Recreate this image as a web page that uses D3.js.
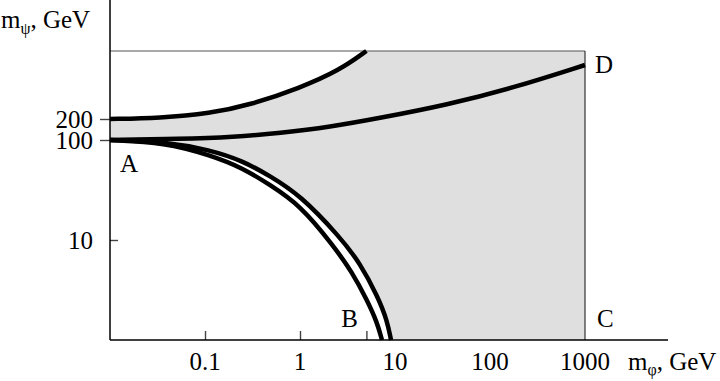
<!DOCTYPE html>
<html><head><meta charset="utf-8">
<script src="https://cdn.jsdelivr.net/npm/d3@7"></script>
<style>
html,body{margin:0;padding:0;background:#fff;}
svg{display:block;}
text{font-family:"Liberation Serif","Times New Roman",serif;fill:#000;}
</style></head>
<body>
<svg id="c" width="720" height="381"></svg>
<script>
// ---- data (log-log, GeV) ----
const xTickValues = [0.1, 1, 5];
const xLabels = [0.1, 1, 10, 100, 1000];
const yTicksOuter = [100, 200];
const yTicksInner = [10];
const yLabels = [200, 100, 10];
const boxMax = [1000, 1000]; // m_phi max, m_psi max of region
const upperCurve = [[0.01,200],[0.0336,204.8],[0.113,228],[0.298,279],[1,417],[2.64,638],[5.0,1000]];
const middleCurve = [[0.01,100],[0.0546,103.4],[0.2,110.4],[0.615,126],[2.07,153.5],[6.95,204.8],[35.3,279],[175,417],[1000,718]];
const outerCurve = [[0.01,100],[0.0379,96.6],[0.113,79.4],[0.251,61.7],[0.483,43.7],[1,28.2],[2.64,10.7],[4.28,5.89],[6.62,2.69],[8.24,1.58],[9.08,1]];
const innerCurve = [[0.01,100],[0.0379,94.4],[0.113,70.8],[0.251,52.5],[0.483,35.5],[1,22.4],[2.22,8.91],[3.53,4.79],[5.07,2.51],[6.47,1.51],[7.29,1]];
const pointLabels = [["A",0.01,100],["B",4.2,1],["C",1000,1],["D",1000,718]];

// ---- scales ----
const svg = d3.select("#c");
const x = d3.scaleLog().domain([0.01, 1000]).range([110, 585]);
const xEnd = 668;
const y = d3.scaleLog().domain([1, 10, 100, 200, 1000, 3350]).range([340, 240, 140, 119, 51, 0]);

const gen = d3.line().x(d => x(d[0])).y(d => y(d[1])).curve(d3.curveBasis);

// ---- gray region ----
const outerRev = outerCurve.slice().reverse();
const fillPath = gen(upperCurve)
  + "L" + x(boxMax[0]) + "," + y(boxMax[1])
  + "L" + x(boxMax[0]) + "," + y(1)
  + gen(outerRev).replace(/^M/, "L") + "Z";
svg.append("path").attr("d", fillPath).attr("fill", "#dfdfdf").attr("stroke", "none");

// box lines
svg.append("line").attr("x1", x(0.01)).attr("x2", x(boxMax[0])).attr("y1", y(boxMax[1])).attr("y2", y(boxMax[1]))
  .attr("stroke", "#555").attr("stroke-width", 1.2);
svg.append("line").attr("x1", x(boxMax[0])).attr("x2", x(boxMax[0])).attr("y1", y(boxMax[1])).attr("y2", y(1))
  .attr("stroke", "#333").attr("stroke-width", 1.2);

// ---- curves ----
[upperCurve, middleCurve, outerCurve, innerCurve].forEach(c => {
  svg.append("path").attr("d", gen(c)).attr("fill", "none").attr("stroke", "#000").attr("stroke-width", 4.5);
});

// ---- axes ----
const gx = svg.append("g").attr("transform", `translate(0,${y(1)})`)
  .call(d3.axisBottom(x).tickValues(xTickValues).tickSizeInner(-9).tickSizeOuter(0).tickFormat(""));
gx.select(".domain").remove();
svg.append("line").attr("x1", x(0.01)).attr("x2", xEnd).attr("y1", y(1)).attr("y2", y(1)).attr("stroke", "#000").attr("stroke-width", 1.5);

const gy1 = svg.append("g").attr("transform", `translate(${x(0.01)},0)`)
  .call(d3.axisLeft(y).tickValues(yTicksOuter).tickSizeInner(10).tickSizeOuter(0).tickFormat(""));
gy1.select(".domain").remove();
const gy2 = svg.append("g").attr("transform", `translate(${x(0.01)},0)`)
  .call(d3.axisLeft(y).tickValues(yTicksInner).tickSizeInner(-8).tickSizeOuter(0).tickFormat(""));
gy2.select(".domain").remove();
svg.selectAll("g .tick line").attr("stroke", "#444").attr("stroke-width", 1.4);
svg.append("line").attr("x1", x(0.01)).attr("x2", x(0.01)).attr("y1", 0).attr("y2", y(1)).attr("stroke", "#000").attr("stroke-width", 1.5);

// tick labels
svg.selectAll(".xl").data(xLabels).enter().append("text")
  .attr("x", d => x(d)).attr("y", 370).attr("text-anchor", "middle").attr("font-size", 25)
  .text(d => d);
svg.selectAll(".yl").data(yLabels).enter().append("text")
  .attr("x", 93).attr("y", d => y(d) + 8.5).attr("text-anchor", "end").attr("font-size", 25)
  .text(d => d);

// axis titles
const tx = svg.append("text").attr("x", 628).attr("y", 370).attr("font-size", 25);
tx.append("tspan").text("m");
tx.append("tspan").attr("font-size", 16).attr("dy", 5).text("φ");
tx.append("tspan").attr("dy", -5).text(", GeV");
const ty = svg.append("text").attr("x", 1).attr("y", 28).attr("font-size", 25);
ty.append("tspan").text("m");
ty.append("tspan").attr("font-size", 16).attr("dy", 6).text("ψ");
ty.append("tspan").attr("dy", -6).text(", GeV");

// point labels
const offs = {A:[10,32], B:[-18,-13], C:[12,-13], D:[10,8]};
pointLabels.forEach(p => {
  svg.append("text").attr("x", x(p[1]) + offs[p[0]][0]).attr("y", y(p[2]) + offs[p[0]][1])
    .attr("font-size", 25).text(p[0]);
});
</script>
</body></html>
